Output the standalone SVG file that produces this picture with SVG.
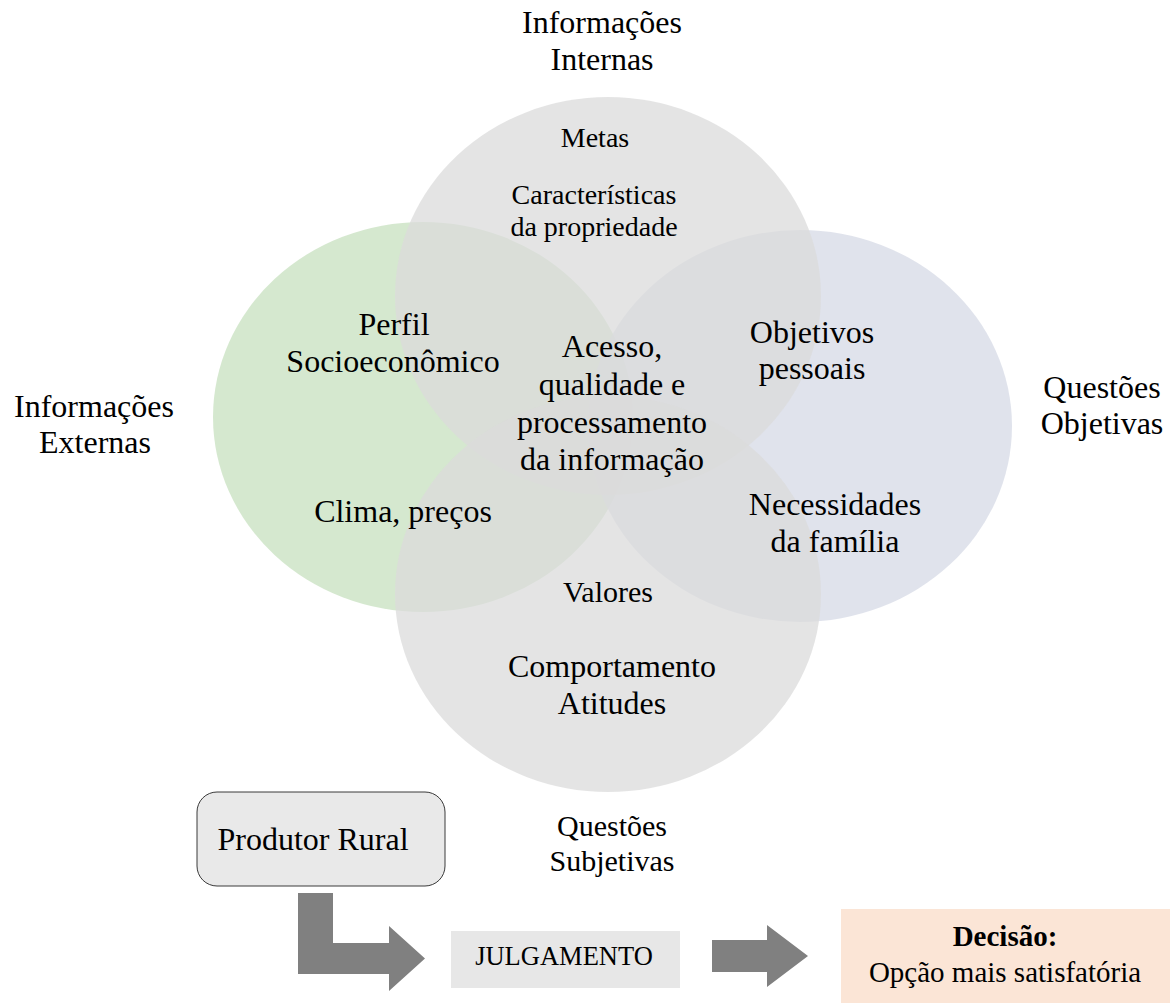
<svg xmlns="http://www.w3.org/2000/svg" width="1174" height="1003" viewBox="0 0 1174 1003">
<style>
text{font-family:"Liberation Serif","Times New Roman",serif;fill:#000;text-anchor:middle}
.b{font-size:32px}
.m{font-size:30px}
.s{font-size:28px}
.c{fill-opacity:0.75}
.arrow{fill:#808080}
</style>
<rect width="1174" height="1003" fill="#fff"/>
<g id="circles">
<g id="externas"><ellipse class="c" cx="423" cy="417" rx="210" ry="195" fill="#c7e0bf"/></g>
<g id="objetivas"><ellipse class="c" cx="800" cy="426" rx="212" ry="196" fill="#d6dae6"/></g>
<g id="internas"><ellipse class="c" cx="608" cy="296" rx="213" ry="199" fill="#dbdbdb"/></g>
<g id="subjetivas"><ellipse class="c" cx="608" cy="594" rx="213" ry="198" fill="#dbdbdb"/></g>
</g>
<g id="labels">
<text class="b" x="602" y="33">Informações</text>
<text class="b" x="602" y="70">Internas</text>
<text class="b" x="94" y="417">Informações</text>
<text class="b" x="95" y="453">Externas</text>
<text class="b" x="1102" y="398">Questões</text>
<text class="b" x="1102" y="434">Objetivas</text>
<text class="m" x="612" y="836">Questões</text>
<text class="m" x="612" y="871">Subjetivas</text>
</g>
<g id="contents">
<text class="s" x="595" y="147">Metas</text>
<text class="s" x="594" y="204">Características</text>
<text class="s" x="594" y="236">da propriedade</text>
<text class="b" x="394" y="335">Perfil</text>
<text class="b" x="393" y="372">Socioeconômico</text>
<text class="b" x="403" y="522">Clima, preços</text>
<text class="b" x="612" y="357">Acesso,</text>
<text class="b" x="612" y="395">qualidade e</text>
<text class="b" x="612" y="433">processamento</text>
<text class="b" x="612" y="470">da informação</text>
<text class="b" x="812" y="343">Objetivos</text>
<text class="b" x="812" y="379">pessoais</text>
<text class="b" x="835" y="515">Necessidades</text>
<text class="b" x="835" y="552">da família</text>
<text class="m" x="608" y="602">Valores</text>
<text class="b" x="612" y="677">Comportamento</text>
<text class="b" x="612" y="714">Atitudes</text>
</g>
<g id="produtor">
<rect x="197" y="792" width="248" height="94" rx="20" ry="20" fill="#e9e9e9" stroke="#3a3a3a" stroke-width="1"/>
<text class="b" x="313" y="850">Produtor Rural</text>
</g>
<g id="julgamento">
<rect x="451" y="931" width="229" height="57" fill="#e7e7e7"/>
<text x="564" y="965" style="font-size:26.5px">JULGAMENTO</text>
</g>
<g id="decisao">
<rect x="841" y="909" width="329" height="94" fill="#fbe5d6"/>
<text x="1005" y="946" style="font-size:29px;font-weight:bold">Decisão:</text>
<text x="1005" y="982" style="font-size:29px">Opção mais satisfatória</text>
</g>
<g id="connectors">
<polygon class="arrow" points="298,893 333,893 333,943 389,943 389,926 425,958.5 389,991 389,974 298,974"/>
<polygon class="arrow" points="712,940 767,940 767,925 808,956 767,987 767,972 712,972"/>
</g>
</svg>
